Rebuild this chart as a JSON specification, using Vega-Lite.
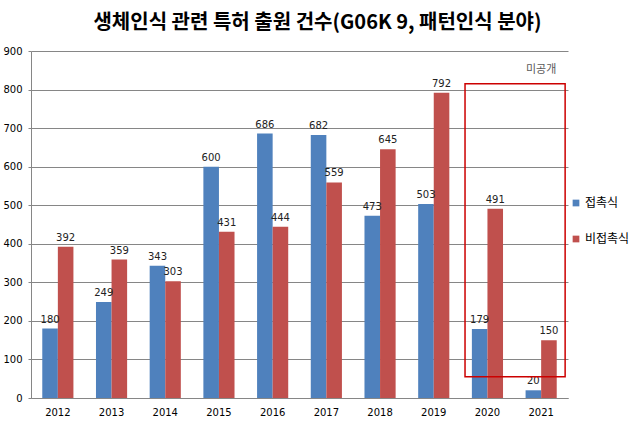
{
  "$schema": "https://vega.github.io/schema/vega-lite/v6.json",
  "width": 537,
  "height": 347,
  "autosize": {"type": "none"},
  "padding": {"left": 31, "top": 51, "right": 75, "bottom": 29},
  "background": "white",
  "config": {
    "font": "Noto Sans CJK KR",
    "view": {"stroke": null},
    "axisY": {
      "tickCount": 9, "labelOverlap": false, "labelFlush": false,
      "labelFontSize": 10, "labelColor": "#000000", "labelFont": "DejaVu Sans",
      "grid": true, "gridColor": "#868686", "gridOpacity": 1, "tickColor": "#868686", "tickSize": 3,
      "domainColor": "#868686", "labelPadding": 6, "title": null
    }
  },
  "title": {
    "text": "생체인식 관련 특허 출원 건수(G06K 9, 패턴인식 분야)",
    "fontSize": 20,
    "fontWeight": "bold",
    "color": "#000000",
    "anchor": "middle",
    "dx": 18,
    "offset": 13
  },
  "datasets": {
    "bars": [
      {"year": "2012", "series": "접촉식", "value": 180},
      {"year": "2012", "series": "비접촉식", "value": 392},
      {"year": "2013", "series": "접촉식", "value": 249},
      {"year": "2013", "series": "비접촉식", "value": 359},
      {"year": "2014", "series": "접촉식", "value": 343},
      {"year": "2014", "series": "비접촉식", "value": 303},
      {"year": "2015", "series": "접촉식", "value": 600},
      {"year": "2015", "series": "비접촉식", "value": 431},
      {"year": "2016", "series": "접촉식", "value": 686},
      {"year": "2016", "series": "비접촉식", "value": 444},
      {"year": "2017", "series": "접촉식", "value": 682},
      {"year": "2017", "series": "비접촉식", "value": 559},
      {"year": "2018", "series": "접촉식", "value": 473},
      {"year": "2018", "series": "비접촉식", "value": 645},
      {"year": "2019", "series": "접촉식", "value": 503},
      {"year": "2019", "series": "비접촉식", "value": 792},
      {"year": "2020", "series": "접촉식", "value": 179},
      {"year": "2020", "series": "비접촉식", "value": 491},
      {"year": "2021", "series": "접촉식", "value": 20},
      {"year": "2021", "series": "비접촉식", "value": 150}
    ],
    "box": [
      {"start": "2020", "end": "2021", "lo": 55, "hi": 815}
    ],
    "note": [
      {"year": "2021", "y": 851, "label": "미공개"}
    ]
  },
  "layer": [
    {
      "data": {"name": "bars"},
      "mark": {"type": "bar"},
      "encoding": {
        "x": {
          "field": "year", "type": "nominal", "sort": null,
          "scale": {"paddingInner": 0.42, "paddingOuter": 0.21},
          "axis": {
            "title": null, "labelAngle": 0, "labelFontSize": 10, "labelColor": "#000000",
            "labelFont": "DejaVu Sans",
            "ticks": false, "domainColor": "#868686", "labelPadding": 9, "grid": false
          }
        },
        "xOffset": {
          "field": "series", "type": "nominal",
          "sort": ["접촉식", "비접촉식"],
          "scale": {"paddingInner": 0, "paddingOuter": 0}
        },
        "y": {
          "field": "value", "type": "quantitative",
          "scale": {"domain": [0, 900], "nice": false}
        },
        "color": {
          "field": "series", "type": "nominal",
          "sort": ["접촉식", "비접촉식"],
          "scale": {"domain": ["접촉식", "비접촉식"], "range": ["#4F81BD", "#C0504D"]},
          "legend": {
            "title": null, "orient": "none", "legendX": 539, "legendY": 146,
            "symbolType": "square", "symbolSize": 45, "symbolStrokeWidth": 0,
            "labelFontSize": 12, "labelColor": "#000000", "rowPadding": 24,
            "labelOffset": 3, "padding": 0
          }
        }
      }
    },
    {
      "data": {"name": "bars"},
      "mark": {"type": "text", "baseline": "bottom", "dy": -4, "fontSize": 10, "color": "#222222", "font": "DejaVu Sans"},
      "encoding": {
        "x": {"field": "year", "type": "nominal", "sort": null},
        "xOffset": {"field": "series", "type": "nominal", "sort": ["접촉식", "비접촉식"]},
        "y": {"field": "value", "type": "quantitative"},
        "text": {"field": "value", "type": "quantitative"}
      }
    },
    {
      "data": {"name": "box"},
      "mark": {"type": "rect", "fill": null, "fillOpacity": 0, "stroke": "#CC0000", "strokeWidth": 1.5},
      "encoding": {
        "x": {"field": "start", "type": "nominal", "bandPosition": -0.22},
        "x2": {"field": "end", "bandPosition": 1.27},
        "y": {"field": "lo", "type": "quantitative"},
        "y2": {"field": "hi"}
      }
    },
    {
      "data": {"name": "note"},
      "mark": {"type": "text", "fontSize": 11, "color": "#595959"},
      "encoding": {
        "x": {"field": "year", "type": "nominal"},
        "y": {"field": "y", "type": "quantitative"},
        "text": {"field": "label", "type": "nominal"}
      }
    }
  ]
}
